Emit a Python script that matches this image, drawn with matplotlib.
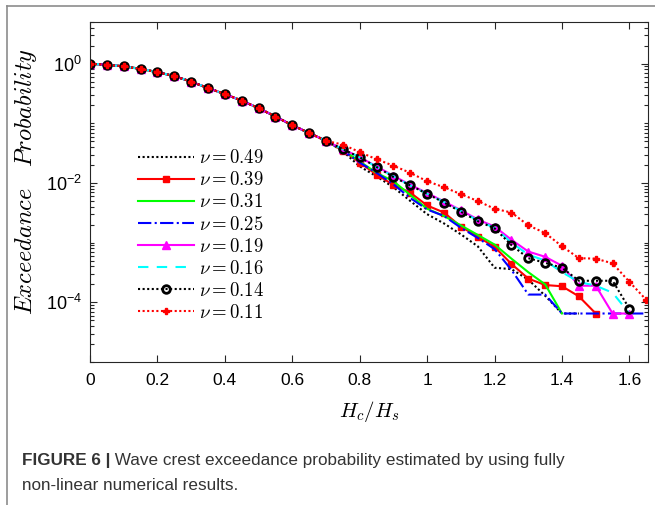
import numpy as np
import matplotlib
matplotlib.use('Agg')
import matplotlib.pyplot as plt
from matplotlib.ticker import FixedLocator, NullFormatter
from matplotlib.lines import Line2D

# Hc/Hs grid of the exceedance estimates
hc = [0, 0.05, 0.1, 0.15, 0.2, 0.25, 0.3, 0.35, 0.4, 0.45, 0.5, 0.55, 0.6, 0.65, 0.7,
      0.75, 0.8, 0.85, 0.9, 0.95, 1.0, 1.05, 1.1, 1.15, 1.2, 1.25, 1.3, 1.35, 1.4,
      1.45, 1.5, 1.55, 1.6, 1.65]

# all curves lie on top of each other up to Hc/Hs = 0.7
p_head = [1.0, 0.96, 0.90, 0.82, 0.72, 0.62, 0.50, 0.39, 0.31, 0.24, 0.18, 0.13,
          0.093, 0.069, 0.051]

# tails from Hc/Hs = 0.75 on
p_049 = [0.034, 0.019, 0.0129, 0.0085, 0.0050, 0.0030, 0.0021, 0.00138, 0.00087,
         0.00038, 0.00036, 0.00024, 0.000129, 6.5e-5, 6.5e-5]
p_039 = [0.035, 0.022, 0.0138, 0.0093, 0.0069, 0.0042, 0.0032, 0.00186, 0.00126,
         0.00085, 0.00044, 0.00025, 0.000195, 0.000186, 0.000126, 6.5e-5]
p_031 = [0.036, 0.023, 0.0148, 0.0107, 0.0063, 0.0037, 0.0028, 0.00195, 0.00135,
         0.00093, 0.00054, 0.00032, 0.0002, 6.5e-5]
p_025 = [0.035, 0.022, 0.0148, 0.0095, 0.0056, 0.0036, 0.0028, 0.00178, 0.0012,
         0.00078, 0.00035, 0.000135, 0.000135, 6.5e-5, 6.5e-5, 6.5e-5, 6.5e-5,
         6.5e-5, 6.5e-5]
p_019 = [0.037, 0.027, 0.019, 0.0132, 0.0093, 0.0068, 0.0049, 0.0035, 0.00245,
         0.00186, 0.00112, 0.00071, 0.00058, 0.00041, 0.00019, 0.00019, 6.5e-5, 6.5e-5]
p_016 = [0.037, 0.027, 0.0186, 0.0129, 0.0091, 0.0066, 0.0048, 0.0034, 0.00234,
         0.00178, 0.001, 0.00063, 0.0005, 0.00032, 0.00022, 0.00019, 0.000145, 6.5e-5]
p_014 = [0.037, 0.027, 0.0186, 0.0126, 0.0091, 0.0066, 0.0047, 0.0033, 0.0023,
         0.00174, 0.00091, 0.00055, 0.00046, 0.00038, 0.00023, 0.00023, 0.00023, 7.8e-5]
p_011 = [0.044, 0.033, 0.025, 0.0195, 0.0148, 0.0107, 0.0085, 0.0065, 0.005, 0.0037,
         0.0032, 0.00195, 0.00145, 0.00087, 0.00055, 0.00054, 0.00045, 0.00022, 0.00011]

nu_labels = ['0.49', '0.39', '0.31', '0.25', '0.19', '0.16', '0.14', '0.11']
tails = [p_049, p_039, p_031, p_025, p_019, p_016, p_014, p_011]

dot = (0, (1, 1.2))
styles = [
    dict(color='k', ls=dot),
    dict(color='#ff0000', ls='-', marker='s', ms=4),
    dict(color='#00ff00', ls='-'),
    dict(color='#0000ff', ls='-.'),
    dict(color='#ff00ff', ls='-', marker='^', ms=6),
    dict(color='#00ffff', ls=(0, (5, 4))),
    dict(color='k', ls=dot, marker='o', ms=5.5, mfc='none', mew=2),
    dict(color='#ff0000', ls=dot, marker='P', ms=5),
]

plt.rcParams['mathtext.fontset'] = 'cm'
plt.rcParams['mathtext.rm'] = 'Liberation Sans'
plt.rcParams['mathtext.it'] = 'Liberation Sans:italic'
plt.rcParams['mathtext.bf'] = 'Liberation Sans:bold'
plt.rcParams['font.family'] = ['Liberation Sans', 'DejaVu Sans']

fig = plt.figure(figsize=(6.55, 5.05), dpi=100)
ax = fig.add_axes([90/655, 143/505, 558/655, 340/505])

for lab, tail, st in zip(nu_labels, tails, styles):
    p = p_head + tail
    ax.plot(hc[:len(p)], p, lw=1.5, label=r'$\nu = %s$' % lab, **st)

ax.set_yscale('log')
ax.set_xlim(0, 1.655)
ax.set_ylim(1e-5, 5)

xt = [0, 0.2, 0.4, 0.6, 0.8, 1.0, 1.2, 1.4, 1.6]
ax.xaxis.set_major_locator(FixedLocator(xt))
ax.set_xticklabels(['%g' % v for v in xt], fontsize=12.5)

yt = [1e-4, 1e-2, 1]
ax.yaxis.set_major_locator(FixedLocator(yt))
ax.set_yticklabels([r'$10^{-4}$', r'$10^{-2}$', r'$10^{0}$'], fontsize=13,
                   math_fontfamily='custom')
minor = [m * 10.0**k for k in range(-5, 1) for m in range(1, 10)]
minor = [v for v in minor if v not in yt and v <= 5]
ax.yaxis.set_minor_locator(FixedLocator(minor))
ax.yaxis.set_minor_formatter(NullFormatter())
ax.xaxis.set_minor_locator(FixedLocator([]))

ax.tick_params(which='both', direction='in', top=True, right=True, width=0.8,
               color='#262626')
ax.tick_params(which='major', length=5)
ax.tick_params(which='minor', length=3)
ax.tick_params(axis='x', pad=8)
ax.tick_params(axis='y', pad=6)
for s in ax.spines.values():
    s.set_linewidth(0.8)
    s.set_color('#262626')

ax.set_xlabel(r'$H_c/H_s$', fontsize=15)
ax.xaxis.set_label_coords(0.5, -0.11)
ax.set_ylabel(r'$Exceedance\quad Probability$', fontsize=17.5)
ax.yaxis.set_label_coords(-0.092, 0.53)

ax.legend(loc='upper left', bbox_to_anchor=(0.072, 0.648), frameon=False,
          fontsize=13.5, handlelength=3.0, handletextpad=0.25, labelspacing=0.22,
          borderaxespad=0, numpoints=1)

# caption
cap_font = ['Liberation Sans Narrow', 'Liberation Sans']
cap = fig.text(22/655, 1 - 460/505, 'FIGURE 6 |', fontsize=12.3, fontweight='bold',
               va='center', family=cap_font, color='#333333')
ax.annotate(' Wave crest exceedance probability estimated by using fully',
            xy=(1, 0.5), xycoords=cap, va='center', ha='left', fontsize=12.3,
            family=cap_font, color='#333333', annotation_clip=False)
fig.text(22/655, 1 - 485/505, 'non-linear numerical results.', fontsize=12.3,
         va='center', family=cap_font, color='#333333')

# grey frame of the figure panel
fig.add_artist(Line2D([7/655, 7/655], [0, 1 - 6/505], transform=fig.transFigure,
                      color='#8c8c8c', lw=1.2))
fig.add_artist(Line2D([7/655, 1], [1 - 6/505, 1 - 6/505], transform=fig.transFigure,
                      color='#8c8c8c', lw=1.2))

fig.savefig('out.png', dpi=100)
